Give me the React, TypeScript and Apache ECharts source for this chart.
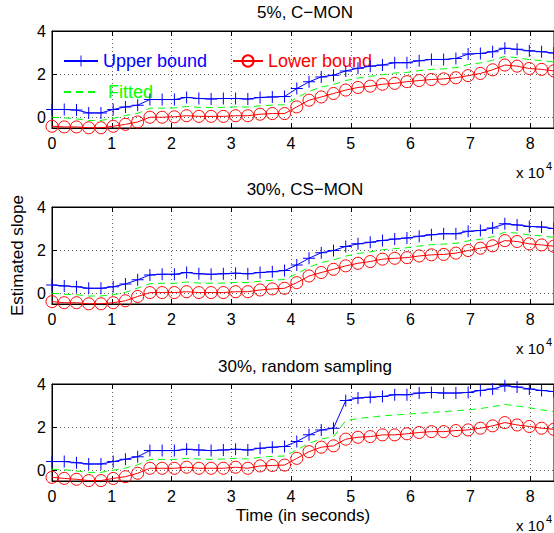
import React, { useEffect, useRef } from 'react';
import * as echarts from 'echarts';

// Time in seconds (axis shown in units of 10^4 s)
const TIMES = [
  0, 2048, 4096, 6144, 8192, 10240, 12288, 14336, 16384, 18432,
  20480, 22528, 24576, 26624, 28672, 30720, 32768, 34816, 36864, 38912,
  40960, 43008, 45056, 47104, 49152, 51200, 53248, 55296, 57344, 59392,
  61440, 63488, 65536, 67584, 69632, 71680, 73728, 75776, 77824, 79872,
  81920, 83968,
];

const TITLES = ['5%, C\u2212MON', '30%, CS\u2212MON', '30%, random sampling'];
const X_TICKS = [0, 10000, 20000, 30000, 40000, 50000, 60000, 70000, 80000];
const Y_TICKS = [0, 2, 4];
const SERIES_NAMES = ['Upper bound', 'Lower bound', 'Fitted'];

// Plot 1: 5%, C-MON
const P1_UPPER = [
  0.36, 0.36, 0.33, 0.2, 0.2, 0.36, 0.48, 0.56, 0.82, 0.82,
  0.82, 0.92, 0.87, 0.85, 0.87, 0.87, 0.84, 0.92, 0.94, 0.96,
  1.33, 1.64, 1.87, 1.95, 2.15, 2.27, 2.37, 2.42, 2.53, 2.53,
  2.62, 2.68, 2.68, 2.73, 2.93, 2.96, 3.04, 3.2, 3.15, 3.08,
  3.04, 2.98,
];
const P1_LOWER = [
  -0.42, -0.45, -0.45, -0.49, -0.49, -0.42, -0.33, -0.22, 0.0, 0.0,
  0.02, 0.07, 0.04, 0.04, 0.04, 0.07, 0.07, 0.14, 0.17, 0.17,
  0.48, 0.79, 0.94, 1.1, 1.26, 1.38, 1.44, 1.53, 1.57, 1.65,
  1.7, 1.75, 1.78, 1.83, 1.93, 2.03, 2.2, 2.42, 2.37, 2.26,
  2.22, 2.15,
];
const P1_FITTED = [
  0.0, -0.03, -0.08, -0.15, -0.15, -0.05, 0.08, 0.18, 0.42, 0.42,
  0.43, 0.5, 0.46, 0.45, 0.46, 0.48, 0.47, 0.53, 0.56, 0.58,
  0.9, 1.2, 1.4, 1.52, 1.7, 1.82, 1.9, 1.97, 2.05, 2.08,
  2.16, 2.22, 2.24, 2.3, 2.44, 2.52, 2.64, 2.82, 2.76, 2.67,
  2.63, 2.56,
];

// Plot 2: 30%, CS-MON
const P2_UPPER = [
  0.38, 0.34, 0.3, 0.23, 0.23, 0.3, 0.43, 0.62, 0.85, 0.88,
  0.88, 0.96, 0.9, 0.88, 0.9, 0.93, 0.9, 0.96, 1.0, 1.05,
  1.31, 1.62, 1.88, 1.98, 2.17, 2.29, 2.36, 2.45, 2.51, 2.56,
  2.64, 2.71, 2.76, 2.76, 2.87, 2.91, 3.03, 3.22, 3.17, 3.1,
  3.07, 3.0,
];
const P2_LOWER = [
  -0.39, -0.44, -0.44, -0.49, -0.49, -0.44, -0.35, -0.15, 0.03, 0.03,
  0.03, 0.07, 0.03, 0.03, 0.03, 0.07, 0.07, 0.15, 0.2, 0.23,
  0.49, 0.8, 0.96, 1.11, 1.27, 1.39, 1.47, 1.58, 1.62, 1.65,
  1.73, 1.78, 1.8, 1.86, 1.98, 2.09, 2.2, 2.44, 2.4, 2.29,
  2.24, 2.18,
];
const P2_FITTED = [
  0.0, -0.05, -0.07, -0.13, -0.13, -0.07, 0.04, 0.24, 0.44, 0.46,
  0.46, 0.52, 0.47, 0.46, 0.47, 0.5, 0.49, 0.56, 0.6, 0.64,
  0.9, 1.21, 1.42, 1.55, 1.72, 1.84, 1.92, 2.02, 2.07, 2.11,
  2.19, 2.25, 2.28, 2.31, 2.43, 2.5, 2.62, 2.83, 2.79, 2.7,
  2.66, 2.59,
];

// Plot 3: 30%, random sampling
const P3_UPPER = [
  0.4, 0.4, 0.35, 0.29, 0.29, 0.4, 0.51, 0.63, 0.91, 0.91,
  0.91, 0.97, 0.94, 0.91, 0.94, 0.97, 0.94, 1.02, 1.07, 1.1,
  1.33, 1.64, 1.87, 1.95, 3.23, 3.35, 3.39, 3.42, 3.5, 3.5,
  3.58, 3.61, 3.58, 3.58, 3.61, 3.7, 3.77, 3.92, 3.86, 3.77,
  3.7, 3.65,
];
const P3_LOWER = [
  -0.33, -0.38, -0.42, -0.48, -0.48, -0.38, -0.3, -0.14, 0.09, 0.09,
  0.09, 0.14, 0.09, 0.09, 0.09, 0.14, 0.09, 0.2, 0.22, 0.24,
  0.55, 0.86, 1.07, 1.13, 1.44, 1.53, 1.56, 1.64, 1.64, 1.69,
  1.75, 1.79, 1.79, 1.84, 1.87, 1.95, 2.06, 2.21, 2.1, 2.03,
  1.95, 1.9,
];
const P3_FITTED = [
  0.05, 0.02, -0.04, -0.1, -0.1, 0.0, 0.1, 0.25, 0.5, 0.5,
  0.5, 0.55, 0.52, 0.5, 0.52, 0.55, 0.52, 0.6, 0.64, 0.66,
  0.94, 1.25, 1.45, 1.55, 2.3, 2.4, 2.46, 2.52, 2.56, 2.6,
  2.64, 2.68, 2.72, 2.76, 2.8, 2.86, 2.95, 3.05, 2.98, 2.9,
  2.8, 2.72,
];

const PLOTS = [
  [P1_UPPER, P1_LOWER, P1_FITTED],
  [P2_UPPER, P2_LOWER, P2_FITTED],
  [P3_UPPER, P3_LOWER, P3_FITTED],
];

const FONT = 'Liberation Sans, Arial, Helvetica, sans-serif';
const BLUE = '#0000ff';
const RED = '#ff0000';
const GREEN = '#00ff00';
const PLUS = 'path://M5.5,0h1v5.5h5.5v1h-5.5v5.5h-1v-5.5h-5.5v-1h5.5z';

const GRID_TOPS = [31, 207, 384];
const GRID_LEFT = 52;
const GRID_W = 506;
const GRID_H = 97;
const X_MAX = 84000;

export default function App() {
  const ref = useRef<HTMLDivElement>(null);

  useEffect(() => {
    if (!ref.current) return;
    const chart = echarts.init(ref.current, null, { renderer: 'svg' });

    const grid = GRID_TOPS.map((top) => ({
      left: GRID_LEFT,
      top,
      width: GRID_W,
      height: GRID_H,
      show: true,
      borderColor: '#000',
      borderWidth: 1,
      backgroundColor: 'transparent',
    }));

    const gridLine = { show: true, lineStyle: { color: '#666', type: [1, 3], width: 1 } };

    const xBottom = GRID_TOPS.map((_, i) => ({
      type: 'value',
      gridIndex: i,
      position: 'bottom',
      min: 0,
      max: X_MAX,
      interval: 10000,
      axisLine: { show: true, onZero: false, lineStyle: { color: '#000', width: 1 } },
      axisTick: { show: true, inside: true, length: 5, lineStyle: { color: '#000' }, customValues: X_TICKS },
      axisLabel: {
        show: true,
        customValues: X_TICKS,
        formatter: (v: number) => String(Math.round(v / 10000)),
        color: '#000',
        fontSize: 16,
        fontFamily: FONT,
        margin: 7,
      },
      splitLine: gridLine,
      name: i === 2 ? 'Time (in seconds)' : '',
      nameLocation: 'middle',
      nameGap: 26,
      nameTextStyle: { color: '#000', fontSize: 17, fontFamily: FONT },
    }));

    const xTop = GRID_TOPS.map((_, i) => ({
      type: 'value',
      gridIndex: i,
      position: 'top',
      min: 0,
      max: X_MAX,
      interval: 10000,
      axisLine: { show: true, onZero: false, lineStyle: { color: '#000', width: 1 } },
      axisTick: { show: true, inside: true, length: 5, lineStyle: { color: '#000' }, customValues: X_TICKS },
      axisLabel: { show: false },
      splitLine: { show: false },
    }));

    const yAxes = GRID_TOPS.map((_, i) => ({
      type: 'value',
      gridIndex: i,
      min: -0.5,
      max: 4,
      axisLine: { show: true, onZero: false, lineStyle: { color: '#000', width: 1 } },
      axisTick: { show: true, inside: true, length: 5, lineStyle: { color: '#000' }, customValues: Y_TICKS },
      axisLabel: {
        show: true,
        customValues: Y_TICKS,
        color: '#000',
        fontSize: 16,
        fontFamily: FONT,
        margin: 6,
      },
      splitLine: gridLine,
      name: i === 1 ? 'Estimated slope' : '',
      nameLocation: 'middle',
      nameGap: 25,
      nameRotate: 90,
      nameTextStyle: { color: '#000', fontSize: 17, fontFamily: FONT },
    }));

    const series: any[] = [];
    PLOTS.forEach(([upper, lower, fitted], i) => {
      series.push({
        name: SERIES_NAMES[0],
        type: 'line',
        xAxisIndex: i,
        yAxisIndex: i,
        data: TIMES.map((t, k) => [t, upper[k]]),
        symbol: PLUS,
        symbolSize: 12,
        showSymbol: true,
        itemStyle: { color: BLUE },
        lineStyle: { color: BLUE, width: 1 },
        z: 4,
      });
      series.push({
        name: SERIES_NAMES[1],
        type: 'line',
        xAxisIndex: i,
        yAxisIndex: i,
        data: TIMES.map((t, k) => [t, lower[k]]),
        symbol: 'circle',
        symbolSize: 12,
        showSymbol: true,
        itemStyle: { color: 'rgba(0,0,0,0)', borderColor: RED, borderWidth: 1 },
        lineStyle: { color: RED, width: 1 },
        z: 3,
      });
      series.push({
        name: SERIES_NAMES[2],
        type: 'line',
        xAxisIndex: i,
        yAxisIndex: i,
        data: TIMES.map((t, k) => [t, fitted[k]]),
        symbol: 'circle',
        symbolSize: 1,
        showSymbol: false,
        itemStyle: { color: 'rgba(0,0,0,0)' },
        lineStyle: { color: GREEN, width: 1, type: [7, 5] },
        z: 2,
      });
    });

    const legendBase = {
      orient: 'horizontal',
      padding: 0,
      itemHeight: 14,
      selectedMode: false,
      textStyle: { fontSize: 18, fontFamily: FONT },
    };

    const graphic: any[] = [];
    const titleYs = [12, 189, 366];
    TITLES.forEach((t, i) => {
      graphic.push({
        type: 'text',
        x: GRID_LEFT + GRID_W / 2,
        y: titleYs[i],
        style: {
          text: t,
          fill: '#000',
          font: `17px ${FONT}`,
          textAlign: 'center',
          textVerticalAlign: 'middle',
        },
      });
    });
    const expYs = [172, 348, 525];
    expYs.forEach((y) => {
      graphic.push({
        type: 'text',
        x: 516,
        y,
        style: { text: 'x 10', fill: '#000', font: `15px ${FONT}`, textVerticalAlign: 'middle' },
      });
      graphic.push({
        type: 'text',
        x: 546,
        y: y - 6,
        style: { text: '4', fill: '#000', font: `11px ${FONT}`, textVerticalAlign: 'middle' },
      });
    });

    chart.setOption({
      animation: false,
      backgroundColor: '#fff',
      grid,
      xAxis: [...xBottom, ...xTop],
      yAxis: yAxes,
      legend: [
        {
          ...legendBase,
          left: 63,
          top: 52,
          itemWidth: 34,
          data: [{ name: 'Upper bound', textStyle: { color: BLUE } }],
        },
        {
          ...legendBase,
          left: 232,
          top: 52,
          itemWidth: 30,
          data: [{ name: 'Lower bound', textStyle: { color: RED } }],
        },
        {
          ...legendBase,
          left: 63,
          top: 83,
          itemWidth: 34,
          data: [{ name: 'Fitted', textStyle: { color: GREEN, padding: [0, 0, 0, 5] } }],
        },
      ],
      series,
      graphic,
    });

    return () => chart.dispose();
  }, []);

  return (
    <div
      ref={ref}
      style={{ position: 'absolute', left: 0, top: 0, width: 554, height: 533 }}
    />
  );
}
